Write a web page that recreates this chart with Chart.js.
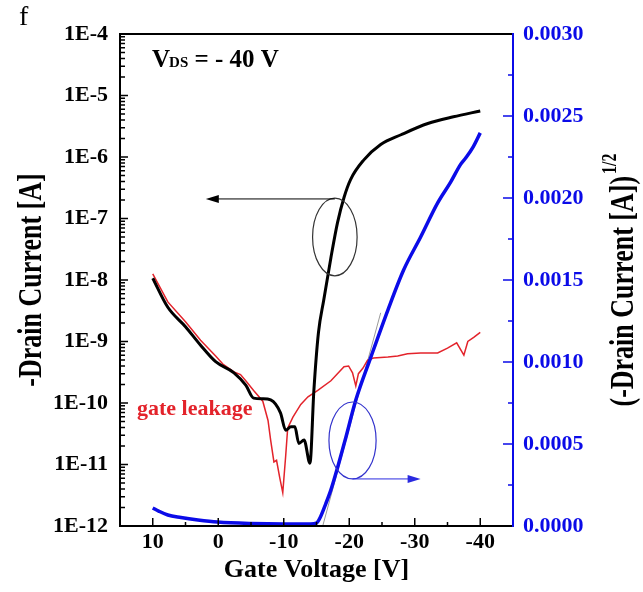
<!DOCTYPE html>
<html>
<head>
<meta charset="utf-8">
<script src="https://cdn.jsdelivr.net/npm/chart.js@4.4.0/dist/chart.umd.min.js"></script>
<style>
  html, body { margin: 0; padding: 0; background: #fff; }
</style>
</head>
<body>
<canvas id="chart" width="643" height="592"></canvas>
<script>
// transfer curve
const drainVg = [10, 7.7, 5.0, 2.7, 0.4, -2.4, -4.2, -5.4, -6.8, -8.0, -9.5, -10.3, -11.1, -11.7, -12.3,
    -13.1, -14.0, -14.6, -15.3, -16.1, -17.2, -18.2, -19.2, -20.2, -22.2, -24.8, -27.9, -32.0, -35.9, -40.0];
const drainId = [1.07e-8, 3.6e-9, 1.74e-9, 8.7e-10, 4.7e-10, 3.1e-10, 1.95e-10, 1.2e-10, 1.17e-10, 1.12e-10,
    6.9e-11, 3.6e-11, 4.1e-11, 4.1e-11, 2.2e-11, 2.5e-11, 1.05e-11, 1.6e-10, 1.4e-9, 4.7e-9,
    2.3e-8, 8.5e-8, 2.2e-7, 4.3e-7, 8.9e-7, 1.6e-6, 2.3e-6, 3.5e-6, 4.5e-6, 5.6e-6];

// gate leakage
const leakVg = [10, 7.7, 5.0, 2.7, 0.4, -0.7, -2.4, -3.4, -4.2, -5.4, -6.8, -7.6, -8.0, -8.5, -8.9,
    -9.4, -9.85, -10.3, -10.6, -11.4, -12.6, -13.7, -15.2, -17.2, -19.2, -19.9, -20.5, -21.0, -21.4, -22.1,
    -22.8, -23.7, -25.9, -27.4, -28.9, -30.9, -33.5, -35.0, -36.4, -37.5, -38.1, -39.0, -40.0];
const leakIg = [1.26e-8, 4.4e-9, 2.1e-9, 1.05e-9, 5.8e-10, 4.3e-10, 3.2e-10, 2.9e-10, 2.3e-10, 1.6e-10,
    1.07e-10, 5.2e-11, 2.5e-11, 1.1e-11, 1.17e-11, 6.0e-12, 3.5e-12, 1.4e-11, 3.9e-11, 5.9e-11,
    9.5e-11, 1.26e-10, 1.6e-10, 2.3e-10, 3.9e-10, 4.0e-10, 3.1e-10, 1.9e-10, 3.0e-10, 3.7e-10,
    5.0e-10, 5.4e-10, 5.6e-10, 5.8e-10, 6.3e-10, 6.5e-10, 6.5e-10, 7.8e-10, 9.5e-10, 6.0e-10,
    1.0e-9, 1.17e-9, 1.41e-9];

// (-Id)^1/2 on the right axis
const sqrtVg = [10, 9.1, 7.7, 5.7, 3.1, 0.1, -5.0, -10.0, -14.1, -15.0, -15.6, -16.4, -17.2, -18.2, -19.5,
    -21.0, -23.3, -25.9, -28.3, -30.9, -33.5, -35.5, -37.0, -37.8, -38.9, -40.0];
const sqrtId = [0.000110, 0.000091, 0.000067, 0.000052, 0.000037, 0.000024, 0.000015, 0.000012, 0.000012,
    0.000018, 0.000055, 0.000134, 0.000220, 0.000354, 0.000543, 0.000768, 0.001030, 0.001317, 0.001561,
    0.001762, 0.001970, 0.002098, 0.002205, 0.002245, 0.002310, 0.002397];

// linear fit for threshold
const fitVg = [-15.95, -24.8];
const fitSqrt = [0, 0.0013];

const xTicks = [10, 0, -10, -20, -30, -40];
const leftTicks = [1e-4, 1e-5, 1e-6, 1e-7, 1e-8, 1e-9, 1e-10, 1e-11, 1e-12];
const rightTicks = [0, 0.0005, 0.001, 0.0015, 0.002, 0.0025, 0.003];

const SERIF = '"Liberation Serif", "Times New Roman", serif';
const BLUE = '#0b0be8';
const RED = '#e3232b';

function pairs(xs, ys) {
    return xs.map((v, i) => ({ x: v, y: ys[i] }));
}

function arrow(ctx, x1, y, x2, color) {
    const dir = x2 > x1 ? 1 : -1;
    ctx.strokeStyle = color;
    ctx.fillStyle = color;
    ctx.lineWidth = 1;
    ctx.beginPath();
    ctx.moveTo(x1, y);
    ctx.lineTo(x2 - dir * 10, y);
    ctx.stroke();
    ctx.beginPath();
    ctx.moveTo(x2, y);
    ctx.lineTo(x2 - dir * 13, y - 4);
    ctx.lineTo(x2 - dir * 13, y + 4);
    ctx.closePath();
    ctx.fill();
}

function ellipse(ctx, xs, ys, vg, halfW, top, bottom, color) {
    const cx = xs.getPixelForValue(vg);
    const rx = Math.abs(xs.getPixelForValue(vg + halfW) - cx);
    const t = ys.getPixelForValue(top), b = ys.getPixelForValue(bottom);
    ctx.strokeStyle = color;
    ctx.lineWidth = 1.2;
    ctx.beginPath();
    ctx.ellipse(cx, (t + b) / 2, rx, (b - t) / 2, 0, 0, Math.PI * 2);
    ctx.stroke();
}

const decorations = {
    id: 'decorations',
    afterDraw(chart) {
        const { ctx, chartArea: a, scales } = chart;
        const xs = scales.x, yl = scales.y, yr = scales.y2;
        ctx.save();

        // inward tick marks
        ctx.lineWidth = 1.5;
        ctx.strokeStyle = '#000';
        ctx.beginPath();
        leftTicks.forEach(v => {
            const y = yl.getPixelForValue(v);
            ctx.moveTo(a.left, y); ctx.lineTo(a.left + 8, y);
            if (v < 1e-4) {
                for (let k = 2; k <= 9; k++) {
                    const ym = yl.getPixelForValue(v * k);
                    ctx.moveTo(a.left, ym); ctx.lineTo(a.left + 5, ym);
                }
            }
        });
        xTicks.forEach(v => {
            const x = xs.getPixelForValue(v);
            ctx.moveTo(x, a.bottom); ctx.lineTo(x, a.bottom - 8);
            const xm = xs.getPixelForValue(v - 5);
            ctx.moveTo(xm, a.bottom); ctx.lineTo(xm, a.bottom - 4);
        });
        ctx.stroke();
        ctx.strokeStyle = BLUE;
        ctx.beginPath();
        rightTicks.forEach(v => {
            const y = yr.getPixelForValue(v);
            ctx.moveTo(a.right, y); ctx.lineTo(a.right - 10, y);
            if (v > 0) {
                const ym = yr.getPixelForValue(v - 0.00025);
                ctx.moveTo(a.right, ym); ctx.lineTo(a.right - 5, ym);
            }
        });
        ctx.stroke();

        // frame
        ctx.lineWidth = 2;
        ctx.strokeStyle = '#000';
        ctx.beginPath();
        ctx.moveTo(a.right, a.top); ctx.lineTo(a.left, a.top);
        ctx.lineTo(a.left, a.bottom); ctx.lineTo(a.right, a.bottom);
        ctx.stroke();
        ctx.strokeStyle = BLUE;
        ctx.beginPath();
        ctx.moveTo(a.right, a.top - 1); ctx.lineTo(a.right, a.bottom + 1);
        ctx.stroke();

        // callouts
        ellipse(ctx, xs, yl, -17.8, 3.4, 2.15e-7, 1.17e-8, '#333');
        arrow(ctx, xs.getPixelForValue(-17.8), yl.getPixelForValue(2.08e-7), xs.getPixelForValue(1.9), '#000');
        ellipse(ctx, xs, yr, -20.5, 3.6, 0.000756, 0.000287, '#3333cc');
        arrow(ctx, xs.getPixelForValue(-20.5), yr.getPixelForValue(0.000287), xs.getPixelForValue(-30.9), '#2a2ae0');

        // texts
        ctx.textAlign = 'left';
        ctx.textBaseline = 'alphabetic';
        ctx.fillStyle = '#000';
        ctx.font = '28px ' + SERIF;
        ctx.fillText('f', 19, 25);

        let px = 152;
        ctx.font = 'bold 25px ' + SERIF;
        ctx.fillText('V', px, 67);
        px += ctx.measureText('V').width - 1;
        ctx.font = 'bold 15px ' + SERIF;
        ctx.fillText('DS', px, 67);
        px += ctx.measureText('DS').width;
        ctx.font = 'bold 25px ' + SERIF;
        ctx.fillText(' = - 40 V', px, 67);

        ctx.fillStyle = RED;
        ctx.font = 'bold 22px ' + SERIF;
        ctx.fillText('gate leakage', 137, 415);

        // rotated axis titles (slightly wide glyphs as in the original)
        const mid = (a.top + a.bottom) / 2;
        ctx.fillStyle = '#000';
        ctx.save();
        ctx.translate(41, mid);
        ctx.rotate(-Math.PI / 2);
        ctx.scale(1, 1.3);
        ctx.textAlign = 'center';
        ctx.font = 'bold 26px ' + SERIF;
        ctx.fillText('-Drain Current [A]', 0, 0);
        ctx.restore();

        ctx.save();
        ctx.translate(633, mid);
        ctx.rotate(-Math.PI / 2);
        ctx.scale(1, 1.3);
        ctx.font = 'bold 26px ' + SERIF;
        const main = '(-Drain Current [A])';
        const wm = ctx.measureText(main).width;
        ctx.font = 'bold 16px ' + SERIF;
        const ws = ctx.measureText('1/2').width;
        const start = -(wm + ws + 2) / 2;
        ctx.font = 'bold 26px ' + SERIF;
        ctx.fillText(main, start, 0);
        ctx.font = 'bold 16px ' + SERIF;
        ctx.fillText('1/2', start + wm + 2, -13);
        ctx.restore();

        ctx.restore();
    }
};

const ctx = document.getElementById('chart').getContext('2d');
new Chart(ctx, {
    type: 'line',
    data: {
        datasets: [{
            label: 'sqrt',
            data: pairs(sqrtVg, sqrtId),
            yAxisID: 'y2',
            borderColor: BLUE,
            borderWidth: 3.5,
            pointRadius: 0,
            cubicInterpolationMode: 'monotone'
        }, {
            label: 'drain',
            data: pairs(drainVg, drainId),
            yAxisID: 'y',
            borderColor: '#000',
            borderWidth: 3,
            pointRadius: 0,
            cubicInterpolationMode: 'monotone'
        }, {
            label: 'leakage',
            data: pairs(leakVg, leakIg),
            yAxisID: 'y',
            borderColor: RED,
            borderWidth: 1.5,
            pointRadius: 0,
            tension: 0
        }, {
            label: 'fit',
            data: pairs(fitVg, fitSqrt),
            yAxisID: 'y2',
            borderColor: '#9a9a9a',
            borderWidth: 1,
            pointRadius: 0
        }]
    },
    options: {
        responsive: false,
        animation: false,
        devicePixelRatio: 1,
        layout: { padding: { top: 34, left: 0, right: 0, bottom: 0 } },
        plugins: { legend: { display: false }, tooltip: { enabled: false } },
        scales: {
            x: {
                type: 'linear',
                reverse: true,
                min: -45,
                max: 15,
                grid: { display: false, drawTicks: false },
                border: { display: false },
                afterBuildTicks: s => { s.ticks = xTicks.map(v => ({ value: v })); },
                afterFit: s => { s.height = 66; },
                ticks: {
                    autoSkip: false,
                    maxRotation: 0,
                    padding: 3,
                    color: '#000',
                    font: { family: SERIF, size: 22, weight: 'bold' },
                    callback: v => String(v)
                },
                title: {
                    display: true,
                    text: 'Gate Voltage [V]',
                    color: '#000',
                    padding: { top: 0, bottom: 6 },
                    font: { family: SERIF, size: 26, weight: 'bold' }
                }
            },
            y: {
                type: 'logarithmic',
                position: 'left',
                min: 1e-12,
                max: 1e-4,
                grid: { display: false, drawTicks: false },
                border: { display: false },
                afterBuildTicks: s => { s.ticks = leftTicks.map(v => ({ value: v })); },
                afterFit: s => { s.width = 120; },
                ticks: {
                    autoSkip: false,
                    padding: 12,
                    color: '#000',
                    font: { family: SERIF, size: 22, weight: 'bold' },
                    callback: v => Number(v).toExponential(0).toUpperCase()
                }
            },
            y2: {
                type: 'linear',
                position: 'right',
                min: 0,
                max: 0.003,
                grid: { display: false, drawTicks: false },
                border: { display: false },
                afterBuildTicks: s => { s.ticks = rightTicks.map(v => ({ value: v })); },
                afterFit: s => { s.width = 130; },
                ticks: {
                    autoSkip: false,
                    padding: 10,
                    color: BLUE,
                    font: { family: SERIF, size: 22, weight: 'bold' },
                    callback: v => v.toFixed(4)
                }
            }
        }
    },
    plugins: [decorations]
});
</script>
</body>
</html>
